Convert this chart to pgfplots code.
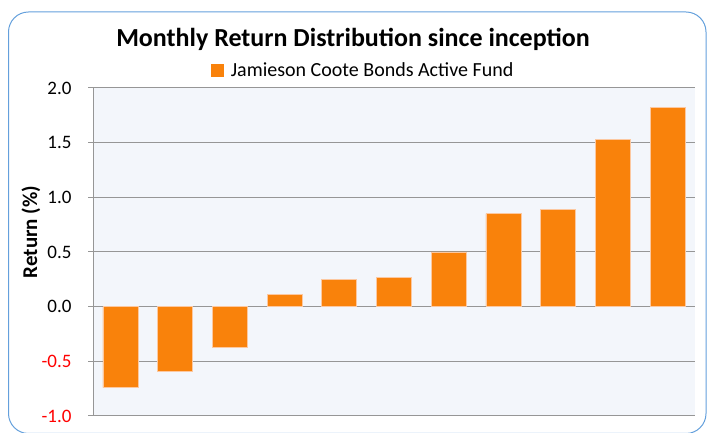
\documentclass[border=0pt]{standalone}
\usepackage{pgfplots}
\pgfplotsset{compat=1.18}
\usepackage{fontspec}
\setmainfont{Carlito}
\definecolor{barorange}{RGB}{249,130,11}
\definecolor{baredge}{RGB}{252,200,160}
\definecolor{bgblue}{RGB}{243,246,251}
\definecolor{framblue}{RGB}{100,160,220}
\definecolor{gridgray}{RGB}{150,150,150}
\definecolor{tickred}{RGB}{255,0,0}
\begin{document}
\begin{tikzpicture}[x=1pt,y=1pt]
\useasboundingbox (0,0) rectangle (714,433);
\draw[framblue, line width=1pt, rounded corners=20pt] (8.5,-0.5) rectangle (706,421);
\node[font=\fontsize{26}{30}\selectfont\bfseries, anchor=base, inner sep=0pt] at (353,386) {Monthly Return Distribution since inception};
\begin{axis}[
  at={(93pt,17pt)}, anchor=south west,
  scale only axis, width=602pt, height=328pt,
  xmin=-0.5, xmax=10.5, ymin=-1, ymax=2,
  ybar, bar width=35pt, bar shift=0pt,
  axis x line*=bottom, axis y line*=left,
  axis line style={gridgray, line width=1pt, -},
  xtick=\empty,
  ytick={-1,-0.5,0,0.5,1,1.5,2},
  yticklabels={\textcolor{tickred}{-1.0},\textcolor{tickred}{-0.5},0.0,0.5,1.0,1.5,2.0},
  ymajorgrids, grid style={gridgray, line width=1pt},
  tick align=outside, major tick length=5pt,
  ytick style={gridgray, line width=1pt},
  yticklabel style={font=\fontsize{19}{22}\selectfont, xshift=-13pt},
  ylabel={Return (\%)},
  ylabel style={font=\fontsize{21}{24}\selectfont\bfseries, at={(axis description cs:-0.103,0.561)}, anchor=center},
  axis background/.style={fill=bgblue},
  legend style={at={(axis description cs:0.449,1.055)}, anchor=center, draw=none, fill=none, font=\fontsize{20}{23}\selectfont, inner sep=0pt},
  legend image code/.code={\fill[barorange] (0pt,-6pt) rectangle (12pt,6pt); \path (17pt,0pt);},
]
\addplot[fill=barorange, draw=baredge, line width=0.6pt] coordinates {
(0,-0.74) (1,-0.59) (2,-0.37) (3,0.11) (4,0.25) (5,0.27) (6,0.50) (7,0.85) (8,0.89) (9,1.53) (10,1.82)};
\addlegendentry{Jamieson Coote Bonds Active Fund}
\end{axis}
\end{tikzpicture}
\end{document}
